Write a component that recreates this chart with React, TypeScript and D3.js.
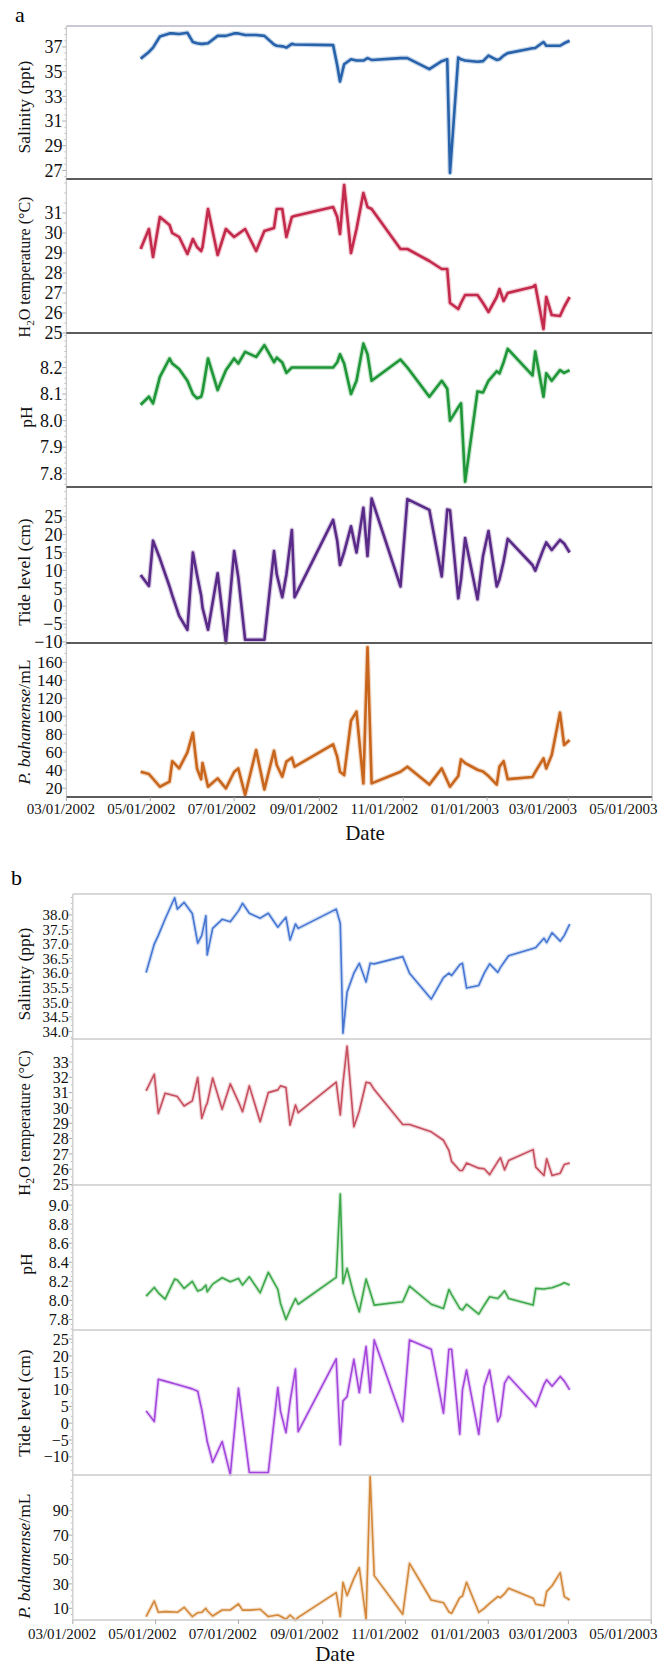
import * as d3 from 'd3';
import React from 'react';

// sampling dates shared by both sites (a and b)
const sampleDates = [
  '2002-04-24', '2002-04-30', '2002-05-03', '2002-05-08', '2002-05-15', '2002-05-17', '2002-05-22', '2002-05-28',
  '2002-06-01', '2002-06-04', '2002-06-07', '2002-06-08', '2002-06-12', '2002-06-19', '2002-06-25',
  '2002-07-01', '2002-07-04', '2002-07-09', '2002-07-17', '2002-07-23', '2002-07-30',
  '2002-08-01', '2002-08-05', '2002-08-08', '2002-08-12', '2002-08-14',
  '2002-09-11', '2002-09-14', '2002-09-16', '2002-09-19', '2002-09-24', '2002-09-28',
  '2002-10-03', '2002-10-06', '2002-10-09', '2002-10-30',
  '2002-11-04', '2002-11-20', '2002-11-29',
  '2002-12-03', '2002-12-05', '2002-12-11', '2002-12-13', '2002-12-16', '2002-12-25', '2002-12-29',
  '2003-01-02', '2003-01-08', '2003-01-10', '2003-01-13', '2003-01-16',
  '2003-02-03', '2003-02-05', '2003-02-11', '2003-02-13', '2003-02-17', '2003-02-23', '2003-02-26',
  '2003-03-02',
];

const xTickDates = ['2002-03-01', '2002-05-01', '2002-07-01', '2002-09-01', '2002-11-01', '2003-01-01', '2003-03-01', '2003-05-01'];

// panel a
const salinityA = [
  36.05, 36.6, 36.95, 37.85, 38.1, 38.1, 38.05, 38.15,
  37.4, 37.3, 37.25, 37.25, 37.3, 37.9, 37.9,
  38.1, 38.1, 37.97, 37.97, 37.9, 37.2,
  37.1, 37.05, 36.95, 37.25, 37.2,
  37.15, 35.5, 34.2, 35.6, 36.0, 35.9,
  35.9, 36.1, 35.95, 36.1,
  36.1, 35.2, 35.85,
  36.0, 26.8, 36.15, 36.0, 35.9, 35.8, 35.85,
  36.3, 35.95, 36.0, 36.3, 36.5,
  36.9, 36.92, 37.4, 37.1, 37.1, 37.1, 37.3,
  37.5,
];
const temperatureA = [
  29.2, 30.2, 28.8, 30.8, 30.4, 30.0, 29.8, 28.95,
  29.7, 29.3, 29.1, 29.3, 31.2, 28.9, 30.2,
  29.8, 29.95, 30.2, 29.1, 30.1, 30.25,
  31.2, 31.2, 29.8, 30.8, 30.85,
  31.3, 30.8, 29.95, 32.4, 29.0, 30.2,
  32.0, 31.3, 31.2, 29.2,
  29.2, 28.6, 28.2,
  28.2, 26.5, 26.2, 26.5, 26.9, 26.9, 26.5,
  26.05, 26.8, 27.2, 26.6, 27.0,
  27.3, 27.4, 25.2, 26.8, 25.9, 25.85, 26.3,
  26.8,
];
const phA = [
  8.06, 8.09, 8.065, 8.165, 8.234, 8.215, 8.194, 8.15,
  8.1, 8.084, 8.09, 8.109, 8.234, 8.115, 8.19,
  8.234, 8.215, 8.259, 8.24, 8.284, 8.22,
  8.237, 8.219, 8.18, 8.2, 8.2,
  8.2, 8.22, 8.25, 8.215, 8.1, 8.15,
  8.29, 8.25, 8.15, 8.23,
  8.2, 8.09, 8.15,
  8.12, 8.0, 8.05, 8.065, 7.77, 8.11, 8.106,
  8.15, 8.186, 8.178, 8.22, 8.27,
  8.17, 8.26, 8.09, 8.178, 8.15, 8.19, 8.18,
  8.19,
];
const tideA = [
  8.7, 5.65, 18.3, 13.3, 5.5, 3.0, -2.7, -6.6,
  15.0, 8.7, 3.0, -0.4, -6.6, 9.2, -10.2,
  15.4, 8.1, -9.4, -9.4, -9.4, 15.4,
  8.9, 2.5, 8.8, 21.3, 2.5,
  24.1, 18.2, 11.5, 15.1, 22.3, 15.0,
  27.5, 14.0, 30.1, 5.5,
  29.9, 26.9, 8.3,
  27.0, 26.8, 2.2, 7.4, 19.0, 1.9, 14.0,
  21.0, 5.5, 7.5, 12.5, 18.8,
  11.5, 9.9, 16.0, 17.8, 15.7, 18.5, 17.5,
  15.0,
];
const bahamenseA = [
  38.3, 35.7, 30.5, 21.6, 27.2, 50, 42.0, 59.9,
  81.7, 42, 30, 48, 21.6, 30.9, 19.8,
  38, 42, 12.4, 62.4, 18.7, 61.7,
  45.8, 32.8, 49.5, 53.9, 43.9,
  68.8, 54.8, 38.3, 34.6, 95, 105.1,
  25.4, 176.7, 25.4, 38.3,
  43.9, 24, 42.0,
  28.2, 21.6, 33.5, 52, 48, 40.5, 38.5,
  33.5, 24, 44, 50, 30,
  32.5, 38, 53.2, 42, 57, 104, 68,
  73.6,
];

// panel b
const salinityB = [
  36.02, 37.0, 37.3, 37.86, 38.59, 38.2, 38.43, 38.05,
  37.03, 37.3, 37.97, 36.63, 37.54, 37.85, 37.77,
  38.14, 38.4, 38.06, 37.89, 38.06, 37.58,
  37.7, 37.92, 37.14, 37.69, 37.54,
  38.2, 37.71, 33.94, 35.35, 36.0, 36.34,
  35.7, 36.34, 36.32, 36.57,
  36.0, 35.11, 35.85,
  36.0, 35.92, 36.29, 36.34, 35.49, 35.58, 36.0,
  36.32, 36.03, 36.2, 36.4, 36.6,
  36.85, 36.88, 37.2, 37.05, 37.39, 37.1, 37.3,
  37.69,
];
const temperatureB = [
  31.11, 32.2, 29.64, 30.96, 30.8, 30.74, 30.13, 30.46,
  31.99, 29.32, 30.13, 30.3, 31.95, 29.91, 31.57,
  30.4, 29.75, 31.44, 29.1, 31.0, 31.18,
  31.44, 31.33, 28.88, 30.19, 29.69,
  31.68, 29.54, 31.6, 34.03, 28.77, 29.8,
  31.68, 31.62, 31.2, 28.92,
  28.92, 28.44, 27.89,
  27.23, 26.51, 25.92, 25.92, 26.4, 26.07, 26.03,
  25.65, 26.5, 26.75, 25.96, 26.57,
  27.28, 26.14, 25.59, 26.68, 25.59, 25.74, 26.31,
  26.4,
];
const phB = [
  8.045, 8.136, 8.08, 8.014, 8.224, 8.213, 8.126, 8.2,
  8.098, 8.115, 8.16, 8.091, 8.171, 8.238, 8.196,
  8.231, 8.161, 8.248, 8.08, 8.294, 8.115,
  7.969, 7.8, 7.9, 8.02, 7.96,
  8.241, 9.115, 8.178, 8.336, 8.06, 7.881,
  8.224, 8.09, 7.951, 7.986,
  8.15, 7.96, 7.916,
  8.115, 8.06, 7.916, 7.9, 7.96, 7.857, 7.95,
  8.038, 8.02, 8.05, 8.101, 8.021,
  7.951, 8.126, 8.119, 8.125, 8.133, 8.165, 8.185,
  8.161,
];
const tideB = [
  3.66, 0.5, 13.07, 12.5, 11.7, 11.5, 10.9, 10.2,
  9.5, 3.96, -3, -5.45, -11.6, -5.45, -15.3,
  10.4, 1.0, -14.65, -14.65, -14.65, 10.6,
  3.5, -2.8, 6.4, 16.1, -2.5,
  19.1, -6.4, 6.6, 7.9, 19.0, 9.1,
  22.8, 9.1, 24.75, 0.5,
  24.75, 22.0, 3.0,
  22.0, 22.0, -3.3, 9.9, 15.8, -3.3, 11,
  15.8, 0.5, 2.2, 11.9, 13.9,
  6, 4.95, 11.5, 12.9, 11, 13.9, 12.5,
  9.9,
];
const bahamenseB = [
  3.2, 16.0, 6.7, 7.3, 6.9, 6.7, 10.8, 3.2,
  6.4, 6.7, 10.0, 8, 3.7, 8.6, 8.6,
  13.6, 8.5, 8.5, 9.2, 3.2, 4.5,
  3.5, 1.0, 4.5, 0.4, 2.5,
  22.8, 3.2, 31.3, 20.4, 34.3, 43.3,
  1.0, 118, 36.8, 5.1,
  46.9, 16.8, 14.6,
  7, 5.9, 18.7, 20.1, 31.3, 6.7, 10,
  14.1, 19.6, 18.7, 22, 26.4,
  18.2, 13.3, 12.2, 23.7, 28.5, 39.2, 19.6,
  16.8,
];

// tick labels
const salTicksA = [27, 29, 31, 33, 35, 37];
const tempTicksA = [25, 26, 27, 28, 29, 30, 31];
const phTicksA = [7.8, 7.9, 8.0, 8.1, 8.2];
const tideTicks = [-10, -5, 0, 5, 10, 15, 20, 25];
const bahTicksA = [20, 40, 60, 80, 100, 120, 140, 160];
const salTicksB = [34.0, 34.5, 35.0, 35.5, 36.0, 36.5, 37.0, 37.5, 38.0];
const tempTicksB = [25, 26, 27, 28, 29, 30, 31, 32, 33];
const phTicksB = [7.8, 8.0, 8.2, 8.4, 8.6, 8.8, 9.0];
const bahTicksB = [10, 30, 50, 70, 90];

const parseDate = d3.timeParse('%Y-%m-%d');
const dates = sampleDates.map((s) => parseDate(s) as Date);
const axisDates = xTickDates.map((s) => parseDate(s) as Date);
const fmtDate = d3.timeFormat('%m/%d/%Y');
const FONT = "'Liberation Serif', 'Times New Roman', serif";

const salTitle = 'Salinity (ppt)';
const tempTitle = (
  <>
    H<tspan dy={4} fontSize="0.7em">2</tspan>
    <tspan dy={-4}>O temperature (°C)</tspan>
  </>
);
const tideTitle = 'Tide level (cm)';
const bahTitle = (
  <>
    <tspan fontStyle="italic">P. bahamense</tspan>/mL
  </>
);

type Panel = {
  title: React.ReactNode;
  titleSize: number;
  titleShift: number;
  titleX?: number;
  tickFont?: number;
  values: number[];
  color: string;
  domain: [number, number];
  ticks: number[];
  fmt: (v: number) => string;
};

type Fig = {
  tag: string;
  tagX: number;
  tagY: number;
  left: number;
  right: number;
  edges: number[];
  heavy: boolean;
  lineW: number;
  tickFont: number;
  labelRange: [number, number];
  labelY: number;
  dateX: number;
  dateY: number;
  panels: Panel[];
};

const f0 = d3.format('d');
const f1 = d3.format('.1f');

const figA: Fig = {
  tag: 'a', tagX: 15, tagY: 22, left: 66.4, right: 652.1,
  edges: [26, 179, 333, 487, 643, 797],
  heavy: true, lineW: 2.6, tickFont: 18,
  labelRange: [60.8, 623.4], labelY: 814, dateX: 365, dateY: 840,
  panels: [
    { title: salTitle, titleSize: 17.5, titleShift: 4.5, values: salinityA, color: '#2762aa', domain: [26.3, 38.7], ticks: salTicksA, fmt: f0 },
    { title: tempTitle, titleSize: 16, titleShift: 11, values: temperatureA, color: '#c42a4c', domain: [25.0, 32.7], ticks: tempTicksA, fmt: f0 },
    { title: 'pH', titleSize: 17.5, titleShift: 7, titleX: 32, values: phA, color: '#1f9638', domain: [7.75, 8.33], ticks: phTicksA, fmt: f1 },
    { title: tideTitle, titleSize: 17.5, titleShift: 7, values: tideA, color: '#5a2a88', domain: [-10.3, 33.3], ticks: tideTicks, fmt: f0 },
    { title: bahTitle, titleSize: 17.5, titleShift: 2, tickFont: 17, values: bahamenseA, color: '#c9661d', domain: [10.2, 181.5], ticks: bahTicksA, fmt: f0 },
  ],
};

const figB: Fig = {
  tag: 'b', tagX: 11, tagY: 885, left: 72.8, right: 651.2,
  edges: [894, 1039, 1185, 1330, 1475, 1620],
  heavy: false, lineW: 1.6, tickFont: 16,
  labelRange: [62.1, 623.4], labelY: 1639, dateX: 335, dateY: 1661,
  panels: [
    { title: salTitle, titleSize: 17.5, titleShift: 7.5, tickFont: 15, values: salinityB, color: '#4677d2', domain: [33.74, 38.72], ticks: salTicksB, fmt: f1 },
    { title: tempTitle, titleSize: 16.5, titleShift: 11, values: temperatureB, color: '#c6505f', domain: [24.97, 34.5], ticks: tempTicksB, fmt: f0 },
    { title: 'pH', titleSize: 17.5, titleShift: 6.5, titleX: 32, values: phB, color: '#3ea94b', domain: [7.69, 9.21], ticks: phTicksB, fmt: f1 },
    { title: tideTitle, titleSize: 17.5, titleShift: 0.5, values: tideB, color: '#a446dc', domain: [-15.4, 27.7], ticks: tideTicks, fmt: f0 },
    { title: bahTitle, titleSize: 17.5, titleShift: 8.5, values: bahamenseB, color: '#d3883a', domain: [0.4, 119.3], ticks: bahTicksB, fmt: f0 },
  ],
};

function Figure({ fig }: { fig: Fig }) {
  const { left, right, edges } = fig;
  const x = d3.scaleTime().domain([axisDates[0], axisDates[axisDates.length - 1]]).range([left, right]);
  const labelX = d3.scaleLinear().domain([left, right]).range(fig.labelRange);
  const bottom = edges[edges.length - 1];
  const light = '#cbcbcb';
  const dark = '#5c5c5c';

  return (
    <g>
      <text x={fig.tagX} y={fig.tagY} fontSize={22} fontFamily={FONT}>{fig.tag}</text>

      {fig.panels.map((p, i) => {
        const top = edges[i];
        const bot = edges[i + 1];
        const y = d3.scaleLinear().domain(p.domain).range([bot, top]);
        const line = d3.line<number>().x((_, j) => x(dates[j])).y((v) => y(v));
        const d = line(p.values) ?? '';
        const minor = y.ticks(24).filter((t) => !p.ticks.some((m) => Math.abs(m - t) < 1e-9));
        const cy = (top + bot) / 2 + p.titleShift;
        const tx = p.titleX ?? 30;
        return (
          <g key={i}>
            {minor.map((t) => (
              <line key={'m' + t} x1={left - 2} x2={left} y1={y(t)} y2={y(t)} stroke="#bdbdbd" strokeWidth={1} />
            ))}
            {p.ticks.map((t) => (
              <g key={'t' + t}>
                <line x1={left - 4} x2={left} y1={y(t)} y2={y(t)} stroke="#aaaaaa" strokeWidth={1} />
                <text x={left - 4} y={y(t)} dy="0.35em" textAnchor="end" fontSize={p.tickFont ?? fig.tickFont} fontFamily={FONT} fill="#111">
                  {p.fmt(t)}
                </text>
              </g>
            ))}
            <text
              transform={`translate(${tx},${cy}) rotate(-90)`}
              textAnchor="middle"
              fontSize={p.titleSize}
              fontFamily={FONT}
              fill="#111"
            >
              {p.title}
            </text>
            <path d={d} fill="none" stroke={p.color} strokeOpacity={0.25} strokeWidth={fig.lineW + 2.4} strokeLinejoin="round" />
            <path d={d} fill="none" stroke={p.color} strokeWidth={fig.lineW} strokeLinejoin="round" />
          </g>
        );
      })}

      {/* frame */}
      <line x1={left} x2={right} y1={edges[0]} y2={edges[0]} stroke={fig.heavy ? '#b7b7c7' : light} strokeWidth={1.3} />
      <line x1={left} x2={left} y1={edges[0]} y2={bottom} stroke={light} strokeWidth={1.3} />
      <line x1={right} x2={right} y1={edges[0]} y2={bottom} stroke={light} strokeWidth={1.3} />
      {edges.slice(1).map((e, i) => (
        <line key={'s' + i} x1={left} x2={right} y1={e} y2={e} stroke={fig.heavy ? dark : light} strokeWidth={fig.heavy ? 2 : 1.3} />
      ))}

      {/* x axis */}
      {axisDates.map((dt, i) => (
        <g key={'x' + i}>
          <line x1={x(dt)} x2={x(dt)} y1={bottom} y2={bottom + 4} stroke="#aaaaaa" strokeWidth={1} />
          <text x={labelX(x(dt))} y={fig.labelY} textAnchor="middle" fontSize={15} fontFamily={FONT} fill="#111">
            {fmtDate(dt)}
          </text>
        </g>
      ))}
      <text x={fig.dateX} y={fig.dateY} textAnchor="middle" fontSize={21} fontFamily={FONT} fill="#111">Date</text>
    </g>
  );
}

export default function App() {
  return (
    <svg
      width={664}
      height={1667}
      viewBox="0 0 664 1667"
      style={{ position: 'absolute', left: 0, top: 0, background: '#fff' }}
    >
      <rect width={664} height={1667} fill="#fff" />
      <Figure fig={figA} />
      <Figure fig={figB} />
    </svg>
  );
}
